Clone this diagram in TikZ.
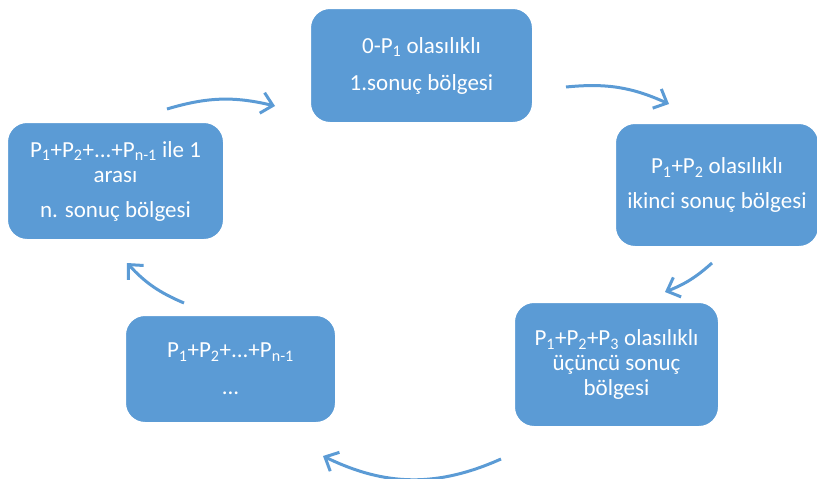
\documentclass[tikz,border=0pt]{standalone}
\usepackage{fontspec}
\setmainfont{Carlito}
\usepackage{tikz}
\usetikzlibrary{arrows.meta}
\definecolor{kutu}{HTML}{5B9BD5}

\begin{document}
\begin{tikzpicture}[x=1pt,y=-1pt,
    bolge/.style={draw=white,line width=2pt,fill=kutu,rounded corners=20pt,
      text=white,align=center,font=\fontsize{23}{25}\selectfont},
    ok/.style={kutu,line width=3pt,-{Straight Barb[length=11pt,width=21pt]}}]
  \useasboundingbox (0,0) rectangle (817,479);
  \node[bolge,minimum width=223,minimum height=115] (b1) at (421.5,65.5)
    {0-P\textsubscript{1} olasılıklı\\[12pt]1.sonuç bölgesi};
  \node[bolge,minimum width=204,minimum height=124] (b2) at (717,185)
    {P\textsubscript{1}+P\textsubscript{2} olasılıklı\\[10pt]ikinci sonuç bölgesi};
  \node[bolge,minimum width=205,minimum height=125] (b3) at (616.5,364.5)
    {P\textsubscript{1}+P\textsubscript{2}+P\textsubscript{3} olasılıklı\\üçüncü sonuç\\bölgesi};
  \node[bolge,minimum width=211,minimum height=108] (b4) at (230.5,369)
    {P\textsubscript{1}+P\textsubscript{2}+...+P\textsubscript{n-1}\\[12pt]...};
  \node[bolge,minimum width=217,minimum height=118] (b5) at (115.5,181)
    {P\textsubscript{1}+P\textsubscript{2}+...+P\textsubscript{n-1} ile 1\\arası\\[10pt]n. sonuç bölgesi};
  % oklar
  \coordinate (o1a) at (167,109); \coordinate (o1b) at (275,106);
  \coordinate (o2a) at (566,87);  \coordinate (o2b) at (669,104);
  \coordinate (o3a) at (712,263); \coordinate (o3b) at (665,292);
  \coordinate (o4a) at (501,459); \coordinate (o4b) at (323,456);
  \coordinate (o5a) at (184,303); \coordinate (o5b) at (127,263);
  \draw[ok] (o1a) to[bend left=15] (o1b);
  \draw[ok] (o2a) to[bend left=15] (o2b);
  \draw[ok] (o3a) to[bend left=10] (o3b);
  \draw[ok] (o4a) to[bend left=25] (o4b);
  \draw[ok] (o5a) to[bend left=12] (o5b);
\end{tikzpicture}
\end{document}
